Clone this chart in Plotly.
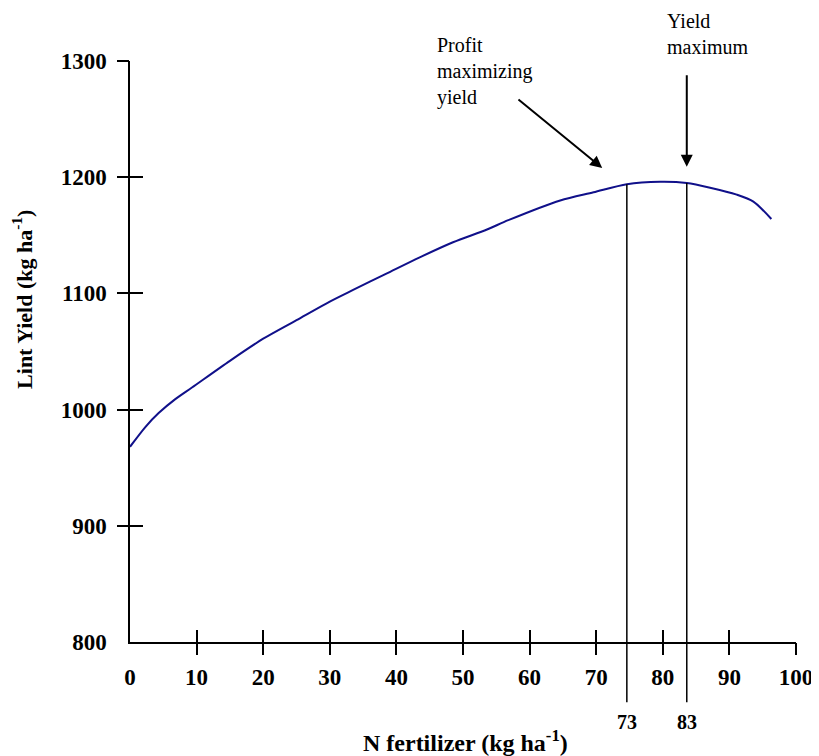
import numpy as np
import plotly.graph_objects as go

# Data
n_rate = [0, 2.3, 4.3, 6.8, 9.3, 15.0, 20.0, 25.0, 30.0, 33.5, 38.5, 43.5, 48.5,
          53.6, 56.8, 64.6, 69.6, 74.6, 79.6, 83.6, 87.1, 91.1, 93.6, 96.3]
lint_yield = [968, 985, 997, 1009, 1019, 1042, 1061, 1077, 1093, 1103, 1117, 1131,
              1144, 1155, 1163, 1180, 1187, 1194, 1196, 1195, 1191, 1185, 1179, 1164]

x_ticks = [0, 10, 20, 30, 40, 50, 60, 70, 80, 90, 100]
y_ticks = [800, 900, 1000, 1100, 1200, 1300]
marker_x = [74.6, 83.6]
marker_labels = ["73", "83"]

FONT = "Liberation Serif"
X_RANGE = [0, 100]
Y_RANGE = [800, 1300]

fig = go.Figure()
fig.add_trace(go.Scatter(x=n_rate, y=lint_yield, mode="lines",
                         line=dict(color="#10108a", width=2, shape="spline", smoothing=0.8),
                         showlegend=False, hoverinfo="skip"))
# empty traces to carry the tick-mark overlay axes
for xa, ya in [("x2", "y"), ("x3", "y"), ("x", "y2"), ("x", "y3")]:
    fig.add_trace(go.Scatter(x=[], y=[], xaxis=xa, yaxis=ya, showlegend=False, hoverinfo="skip"))

tickfont = dict(family=FONT, size=23, color="black", weight="bold")
common = dict(showgrid=False, zeroline=False, autorange=False, automargin=False)

fig.update_layout(
    width=811, height=748,
    margin=dict(l=122, r=23, t=53, b=114, autoexpand=False),
    paper_bgcolor="white", plot_bgcolor="white",
    xaxis=dict(range=X_RANGE, showline=True, linecolor="black", linewidth=1.5,
               tickmode="array", tickvals=x_ticks, ticktext=[str(v) for v in x_ticks],
               ticks="outside", ticklen=14, tickcolor="rgba(0,0,0,0)", tickfont=tickfont,
               ticklabeloverflow="allow", **common),
    yaxis=dict(range=Y_RANGE, showline=True, linecolor="black", linewidth=1.5,
               tickmode="array", tickvals=y_ticks, ticktext=[str(v) for v in y_ticks],
               ticks="outside", ticklen=17, tickcolor="rgba(0,0,0,0)", tickfont=tickfont,
               ticklabeloverflow="allow", **common),
    xaxis2=dict(overlaying="x", anchor="y", range=X_RANGE, showline=False,
                showticklabels=False, tickmode="array", tickvals=x_ticks[1:],
                ticks="outside", ticklen=12, tickwidth=1.5, tickcolor="black", **common),
    xaxis3=dict(overlaying="x", anchor="y", range=X_RANGE, showline=False,
                showticklabels=False, tickmode="array", tickvals=x_ticks[1:],
                ticks="inside", ticklen=12, tickwidth=1.5, tickcolor="black", **common),
    yaxis2=dict(overlaying="y", anchor="x", range=Y_RANGE, showline=False,
                showticklabels=False, tickmode="array", tickvals=y_ticks[1:],
                ticks="outside", ticklen=12, tickwidth=1.5, tickcolor="black", **common),
    yaxis3=dict(overlaying="y", anchor="x", range=Y_RANGE, showline=False,
                showticklabels=False, tickmode="array", tickvals=y_ticks[1:],
                ticks="inside", ticklen=13, tickwidth=1.5, tickcolor="black", **common),
)

# vertical marker lines from below the axis up to the curve
for mx, lab in zip(marker_x, marker_labels):
    y_top = float(np.interp(mx, n_rate, lint_yield))
    top_paper = (y_top - Y_RANGE[0]) / (Y_RANGE[1] - Y_RANGE[0])
    fig.add_shape(type="line", xref="x", yref="paper", x0=mx, x1=mx,
                  y0=-0.1035, y1=top_paper, line=dict(color="black", width=1.5))
    fig.add_annotation(x=mx, xref="x", y=-0.138, yref="paper", text=lab, showarrow=False,
                       font=dict(family=FONT, size=20, color="black", weight="bold"),
                       xanchor="center", yanchor="middle")

# axis titles
fig.add_annotation(x=0.504, xref="paper", y=-0.170, yref="paper",
                   text="N fertilizer (kg ha<sup>-1</sup>)", showarrow=False,
                   font=dict(family=FONT, size=24, color="black", weight="bold"),
                   xanchor="center", yanchor="middle")
fig.add_annotation(x=-0.162, xref="paper", y=0.589, yref="paper",
                   text="Lint Yield (kg ha<sup>-1</sup>)", showarrow=False, textangle=-90,
                   font=dict(family=FONT, size=22, color="black", weight="bold"),
                   xanchor="center", yanchor="middle")

# text labels and arrows
fig.add_annotation(x=0.458, xref="paper", y=1.050, yref="paper",
                   text="Profit<br>maximizing<br>yield", showarrow=False, align="left",
                   font=dict(family=FONT, size=20, color="black"),
                   xanchor="left", yanchor="top")
fig.add_annotation(x=0.804, xref="paper", y=1.092, yref="paper",
                   text="Yield<br>maximum", showarrow=False, align="left",
                   font=dict(family=FONT, size=20, color="black"),
                   xanchor="left", yanchor="top")
fig.add_annotation(x=70.9, y=1208, ax=58.1, ay=1268, axref="x", ayref="y",
                   text="", showarrow=True, arrowhead=2, arrowsize=1.2, arrowwidth=2,
                   arrowcolor="black")
fig.add_annotation(x=83.6, y=1209, ax=83.6, ay=1289, axref="x", ayref="y",
                   text="", showarrow=True, arrowhead=2, arrowsize=1.2, arrowwidth=2,
                   arrowcolor="black")

fig.write_html("out.html")
